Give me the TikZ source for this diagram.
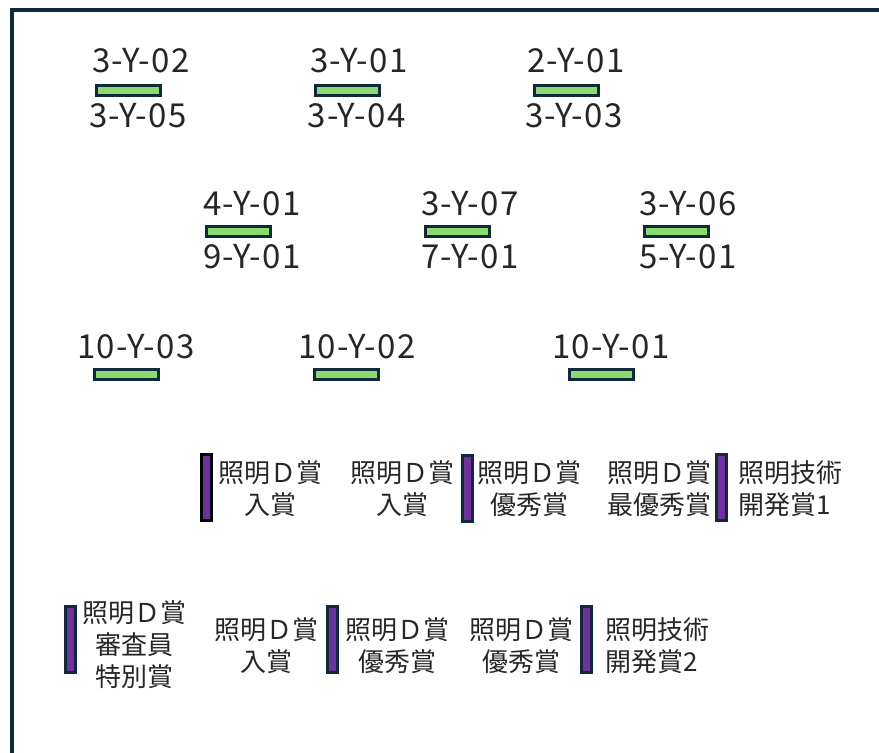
\documentclass[tikz,border=0pt]{standalone}
\usepackage{fontspec}
\setmainfont{Noto Sans CJK JP}
\newfontfamily\codefont[LetterSpace=4.5]{Noto Sans CJK JP}
\definecolor{navy}{HTML}{0E2A3B}
\definecolor{lgreen}{HTML}{8CD96E}
\definecolor{lpurple}{HTML}{7030A0}
\begin{document}
\begin{tikzpicture}[x=1pt,y=-1pt,
  gbar/.style={rectangle, draw=navy, line width=3pt, fill=lgreen, minimum width=64pt, minimum height=10pt, inner sep=0pt},
  pbar/.style={rectangle, draw=navy, line width=3pt, fill=lpurple, minimum width=10pt, minimum height=66pt, inner sep=0pt},
  code/.style={inner sep=0pt, font=\codefont\fontsize{33}{33}\selectfont, text=black!85},
  award/.style={inner sep=0pt, align=center, font=\fontsize{26}{32}\selectfont, text=black!85},
  awardl/.style={inner sep=0pt, align=left, font=\fontsize{26}{32}\selectfont, text=black!85}]
\useasboundingbox (0,0) rectangle (879,753);
\draw[navy, line width=4pt] (11.5,753) -- (11.5,10) -- (879,10);
% row 1
\node[code] (t1a) at (141,61) {3-Y-02};
\node[gbar] (b1) at (128.5,90.5) {};
\node[code] (t1b) at (138,116) {3-Y-05};
\node[code] (t2a) at (359,61) {3-Y-01};
\node[gbar] (b2) at (347,90.5) {};
\node[code] (t2b) at (356.5,116) {3-Y-04};
\node[code] (t3a) at (576,61) {2-Y-01};
\node[gbar] (b3) at (566,90.5) {};
\node[code] (t3b) at (574,116) {3-Y-03};
% row 2
\node[code] (t4a) at (252,204) {4-Y-01};
\node[gbar] (b4) at (238.5,231) {};
\node[code] (t4b) at (252,257) {9-Y-01};
\node[code] (t5a) at (470,204) {3-Y-07};
\node[gbar] (b5) at (457.5,231) {};
\node[code] (t5b) at (470,257) {7-Y-01};
\node[code] (t6a) at (688,204) {3-Y-06};
\node[gbar] (b6) at (676.5,231) {};
\node[code] (t6b) at (688,257) {5-Y-01};
% row 3
\node[code] (t7) at (136,347) {10-Y-03};
\node[gbar] (b7) at (126.5,374) {};
\node[code] (t8) at (357,347) {10-Y-02};
\node[gbar] (b8) at (346.5,374) {};
\node[code] (t9) at (611,347) {10-Y-01};
\node[gbar] (b9) at (601.5,374) {};
% row 4
\node[pbar, draw=black] (p1) at (206,487.5) {};
\node[award] (a1) at (270.5,489) {照明Ｄ賞\\入賞};
\node[award] (a2) at (402.5,489) {照明Ｄ賞\\入賞};
\node[pbar] (p2) at (467,488) {};
\node[award] (a3) at (529.5,489) {照明Ｄ賞\\優秀賞};
\node[award] (a4) at (659,489) {照明Ｄ賞\\最優秀賞};
\node[pbar] (p3) at (721.5,487) {};
\node[awardl, anchor=west] (a5) at (738,489) {照明技術\\開発賞1};
% row 5
\node[pbar] (p4) at (70.5,639) {};
\node[award] (a6) at (134,645) {照明Ｄ賞\\審査員\\特別賞};
\node[award] (a7) at (266,646) {照明Ｄ賞\\入賞};
\node[pbar] (p5) at (332.5,639.5) {};
\node[award] (a8) at (397.5,646) {照明Ｄ賞\\優秀賞};
\node[award] (a9) at (521,646) {照明Ｄ賞\\優秀賞};
\node[pbar] (p6) at (586.5,639) {};
\node[awardl, anchor=west] (a10) at (605,646) {照明技術\\開発賞2};
\end{tikzpicture}
\end{document}
